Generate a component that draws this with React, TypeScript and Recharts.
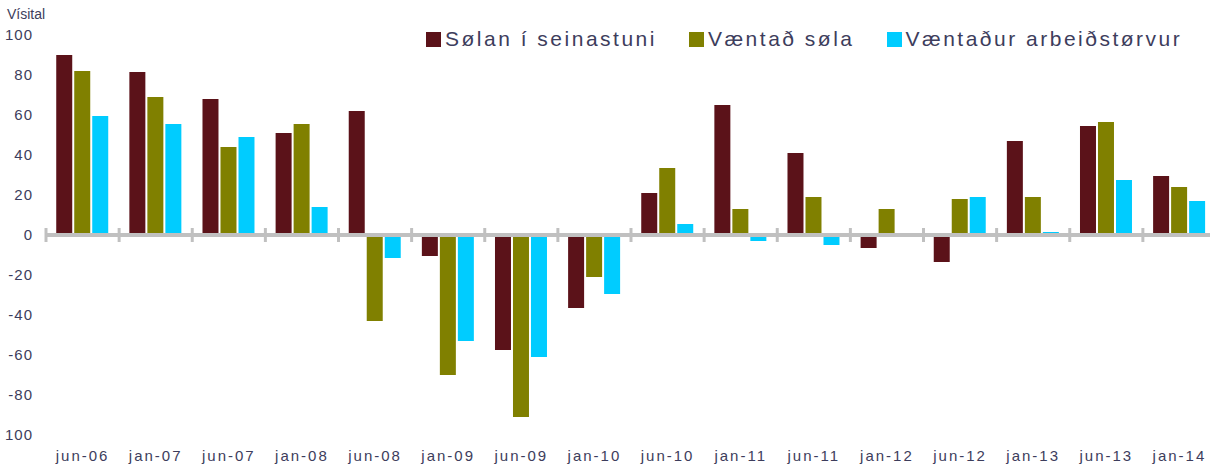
import { BarChart, Bar, XAxis, YAxis, ReferenceLine } from 'recharts'

const CATEGORIES = [
  'jun-06', 'jan-07', 'jun-07', 'jan-08', 'jun-08', 'jan-09', 'jun-09', 'jan-10',
  'jun-10', 'jan-11', 'jun-11', 'jan-12', 'jun-12', 'jan-13', 'jun-13', 'jan-14',
]
const SOLAN = [90, 81.5, 68, 51, 62, -10.5, -57.5, -36.5, 21, 65, 41, -6.5, -13.5, 47, 54.5, 29.5]
const VAENTAD_SOLA = [82, 69, 44, 55.5, -43, -70, -91, -21, 33.5, 13, 19, 13, 18, 19, 56.5, 24]
const ARBEIDSTORVUR = [59.5, 55.5, 49, 14, -11.5, -53, -61, -29.5, 5.5, -3, -5, 0, 19, 1.5, 27.5, 17]
const Y_TICKS = [-100, -80, -60, -40, -20, 0, 20, 40, 60, 80, 100]

const SERIES = [
  { key: 'solan', name: 'Sølan í seinastuni', color: '#5b1219' },
  { key: 'sola', name: 'Væntað søla', color: '#808000' },
  { key: 'arbeid', name: 'Væntaður arbeiðstørvur', color: '#00ccff' },
]

const data = CATEGORIES.map((c, i) => ({
  cat: c,
  solan: SOLAN[i],
  sola: VAENTAD_SOLA[i],
  arbeid: ARBEIDSTORVUR[i],
}))

const TEXT = '#3d3d5c'
const FONT = '"Liberation Sans", Arial, sans-serif'

// zero line with tick marks at the category boundaries
function ZeroAxis(props: any) {
  const x1 = props.x1 ?? props.points?.[0]?.x
  const x2 = props.x2 ?? props.points?.[1]?.x
  const y = props.y1 ?? props.points?.[0]?.y
  const n = CATEGORIES.length
  const step = (x2 - x1) / n
  return (
    <g>
      <line x1={x1} x2={x2} y1={y} y2={y} stroke="#c0c0c0" strokeWidth={4} />
      {Array.from({ length: n + 1 }, (_, i) => (
        <line key={i} x1={x1 + i * step} x2={x1 + i * step} y1={y - 7} y2={y + 7} stroke="#c0c0c0" strokeWidth={3} />
      ))}
    </g>
  )
}

function LegendBox() {
  return (
    <div
      style={{
        position: 'absolute', left: 426, top: 27, display: 'flex',
        fontFamily: FONT, fontSize: 21, letterSpacing: 2.5, color: TEXT, zIndex: 2,
      }}
    >
      {SERIES.map((s) => (
        <div key={s.key} style={{ display: 'flex', alignItems: 'center', marginRight: 32, whiteSpace: 'nowrap' }}>
          <span style={{ width: 15, height: 15, background: s.color, marginRight: 4, display: 'inline-block' }} />
          <span>{s.name}</span>
        </div>
      ))}
    </div>
  )
}

export default function App() {
  return (
    <div style={{ position: 'absolute', left: 0, top: 0, width: 1210, height: 468, overflow: 'hidden', background: '#fff' }}>
      <div style={{ position: 'absolute', left: 7, top: 6, fontFamily: FONT, fontSize: 14, color: TEXT, zIndex: 2 }}>
        Vísital
      </div>
      <LegendBox />
      <BarChart
        width={1230}
        height={468}
        data={data}
        margin={{ top: 35, right: 14, left: 0, bottom: 0 }}
        barCategoryGap="14%"
        barGap={2}
      >
        <XAxis
          dataKey="cat"
          height={33}
          axisLine={false}
          tickLine={false}
          tickSize={0}
          tickMargin={15}
          interval={0}
          tick={{ fontSize: 15, fill: TEXT, fontFamily: FONT, letterSpacing: 2 }}
        />
        <YAxis
          width={46}
          domain={[-100, 100]}
          ticks={Y_TICKS}
          axisLine={false}
          tickLine={false}
          tickSize={0}
          tickMargin={13}
          tickFormatter={(v: number) => (v === -100 ? '100' : String(v))}
          tick={{ fontSize: 15, fill: TEXT, fontFamily: FONT, letterSpacing: 1 }}
        />
        {SERIES.map((s) => (
          <Bar key={s.key} dataKey={s.key} name={s.name} fill={s.color} isAnimationActive={false} />
        ))}
        <ReferenceLine y={0} ifOverflow="visible" shape={(p: any) => <ZeroAxis {...p} />} />
      </BarChart>
    </div>
  )
}
